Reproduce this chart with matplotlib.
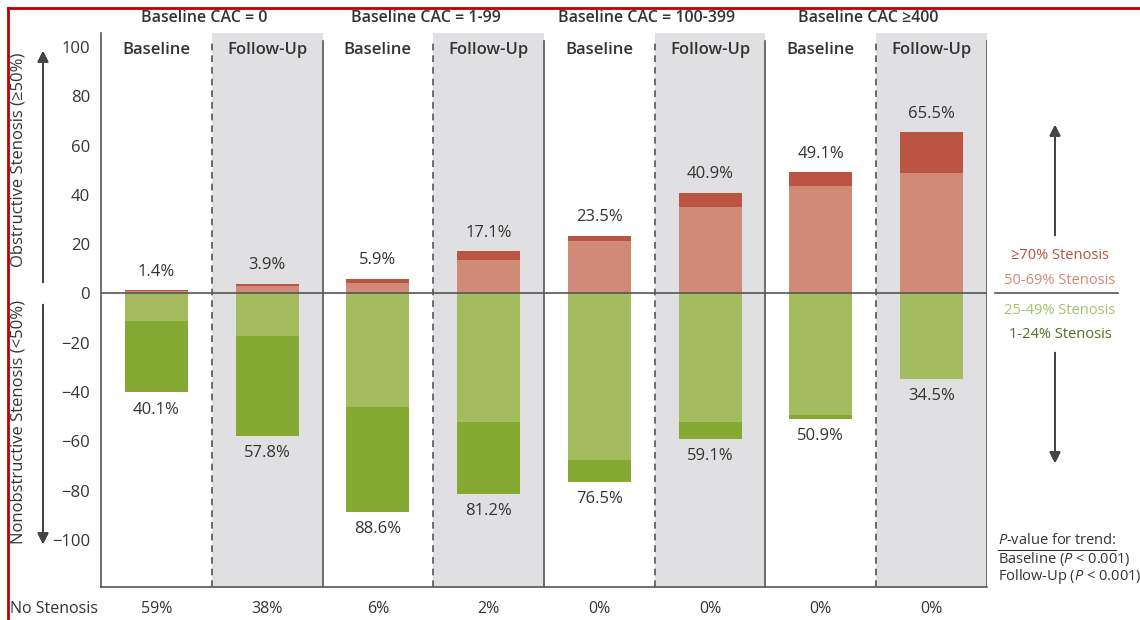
import numpy as np
import matplotlib.pyplot as plt

plt.rcParams['font.family'] = ['Open Sans', 'DejaVu Sans']
plt.rcParams['mathtext.fontset'] = 'custom'
plt.rcParams['mathtext.rm'] = 'Open Sans'
plt.rcParams['mathtext.it'] = 'Open Sans:italic'

# Data (percent of patients)
groups = ['Baseline CAC = 0', 'Baseline CAC = 1-99', 'Baseline CAC = 100-399', 'Baseline CAC \u2265400']
phases = ['Baseline', 'Follow-Up', 'Baseline', 'Follow-Up', 'Baseline', 'Follow-Up', 'Baseline', 'Follow-Up']
sev70 = [0.3, 1.0, 1.8, 3.4, 2.4, 5.7, 5.4, 16.6]      # >=70% stenosis
sev50 = [1.1, 2.9, 4.1, 13.7, 21.1, 35.2, 43.7, 48.9]  # 50-69% stenosis
mild25 = [11.0, 17.4, 46.0, 52.2, 67.5, 52.0, 49.3, 34.5]  # 25-49% stenosis
mild1 = [29.1, 40.4, 42.6, 29.0, 9.0, 7.1, 1.6, 0.0]   # 1-24% stenosis
no_stenosis = ['59%', '38%', '6%', '2%', '0%', '0%', '0%', '0%']

c70 = '#BB5443'
c50 = '#CF8B78'
c25 = '#A4BC5F'
c1 = '#86A934'
txt = '#333333'
line_c = '#555555'

fig = plt.figure(figsize=(11.4, 6.2), dpi=100)
ax = fig.add_axes([101 / 1140, 33 / 620, 886 / 1140, 554 / 620])
ax.set_xlim(0, 8)
ax.set_ylim(-119.1, 105.7)

x = np.arange(8) + 0.5
obstr = np.array(sev70) + np.array(sev50)
nonob = np.array(mild25) + np.array(mild1)

# shaded follow-up columns and separators
for i in range(8):
    if i % 2 == 1:
        ax.axvspan(i, i + 1, color='#E0E0E2', lw=0, zorder=0)
        ax.axvline(i, color=line_c, lw=1.2, ls=(0, (4, 3)), ymax=0.985, zorder=1)
    elif i > 0:
        ax.axvline(i, color=line_c, lw=1.2, ymax=0.985, zorder=1)
ax.axvline(8, color=line_c, lw=1.2, ymax=0.985, zorder=1)

w = 0.57
ax.bar(x, sev50, width=w, color=c50, zorder=2)
ax.bar(x, sev70, width=w, bottom=sev50, color=c70, zorder=2)
ax.bar(x, -np.array(mild25), width=w, color=c25, zorder=2)
ax.bar(x, -np.array(mild1), width=w, bottom=-np.array(mild25), color=c1, zorder=2)
ax.axhline(0, color=line_c, lw=1.2, zorder=3)

for xi, o, n in zip(x, obstr, nonob):
    ax.text(xi, o + 7.5, f'{o:.1f}%', ha='center', va='center', fontsize=12, color=txt)
    ax.text(xi, -n - 7, f'{n:.1f}%', ha='center', va='center', fontsize=12, color=txt)

for xi, p in zip(x, phases):
    ax.text(xi, 98.8, p, ha='center', va='center', fontsize=12, fontweight='semibold', color=txt)
for gi, g in enumerate(groups):
    ax.text(2 * gi + 0.93, 111.8, g, ha='center', va='center', fontsize=11.5,
            fontweight='semibold', color=txt, clip_on=False)
for xi, s in zip(x, no_stenosis):
    ax.text(xi, -128, s, ha='center', va='center', fontsize=11.5, color=txt, clip_on=False)
fig.text(10 / 1140, 1 - 609 / 620, 'No Stenosis', ha='left', va='center', fontsize=11.5, color=txt)

ax.set_yticks(np.arange(-100, 101, 20))
ax.set_yticklabels([str(v).replace('-', '\u2212') for v in range(-100, 101, 20)])
ax.tick_params(axis='y', length=0, pad=8, labelsize=12, labelcolor=txt)
ax.set_xticks([])
for s in ['top', 'right']:
    ax.spines[s].set_visible(False)
for s in ['left', 'bottom']:
    ax.spines[s].set_color(line_c)
    ax.spines[s].set_linewidth(1.2)

# left axis labels with arrows
def fx(px):
    return px / 1140

def fy(py):
    return 1 - py / 620

arrow = dict(arrowstyle='-|>', color='#444444', lw=1.4, mutation_scale=16)
fig.add_artist(plt.annotate('', xy=(fx(43), fy(48)), xytext=(fx(43), fy(285)),
                            xycoords='figure fraction', arrowprops=arrow))
fig.add_artist(plt.annotate('', xy=(fx(43), fy(547)), xytext=(fx(43), fy(302)),
                            xycoords='figure fraction', arrowprops=arrow))
fig.text(fx(19), fy(160), 'Obstructive Stenosis (\u226550%)', rotation=90, ha='center', va='center',
         fontsize=12, color=txt)
fig.text(fx(19), fy(422), 'Nonobstructive Stenosis (<50%)', rotation=90, ha='center', va='center',
         fontsize=12, color=txt)

# right legend
fig.add_artist(plt.annotate('', xy=(fx(1055), fy(122)), xytext=(fx(1055), fy(238)),
                            xycoords='figure fraction', arrowprops=arrow))
fig.add_artist(plt.annotate('', xy=(fx(1055), fy(466)), xytext=(fx(1055), fy(350)),
                            xycoords='figure fraction', arrowprops=arrow))
fig.text(fx(1060), fy(256), '\u226570% Stenosis', ha='center', va='center', fontsize=10.5, color='#B5523F')
fig.text(fx(1060), fy(280), '50-69% Stenosis', ha='center', va='center', fontsize=10.5, color='#D08A74')
fig.add_artist(plt.Line2D([fx(995), fx(1118)], [fy(293), fy(293)], color=line_c, lw=1.2))
fig.text(fx(1060), fy(310), '25-49% Stenosis', ha='center', va='center', fontsize=10.5, color='#A7BE6A')
fig.text(fx(1060), fy(335), '1-24% Stenosis', ha='center', va='center', fontsize=10.5, color='#53701F')

fig.text(fx(998), fy(541), r'$\it{P}$-value for trend:', ha='left', va='center', fontsize=10.5, color=txt)
fig.add_artist(plt.Line2D([fx(998), fx(1116)], [fy(550), fy(550)], color=txt, lw=0.8))
fig.text(fx(998), fy(559), r'Baseline ($\it{P}$ < 0.001)', ha='left', va='center', fontsize=10.5, color=txt)
fig.text(fx(998), fy(576), r'Follow-Up ($\it{P}$ < 0.001)', ha='left', va='center', fontsize=10.5, color=txt)

# red frame
fig.add_artist(plt.Line2D([fx(8), 1], [fy(8), fy(8)], color='#C00000', lw=2))
fig.add_artist(plt.Line2D([fx(8), fx(8)], [fy(8), 0], color='#C00000', lw=2))

fig.savefig('out.png', dpi=100)
